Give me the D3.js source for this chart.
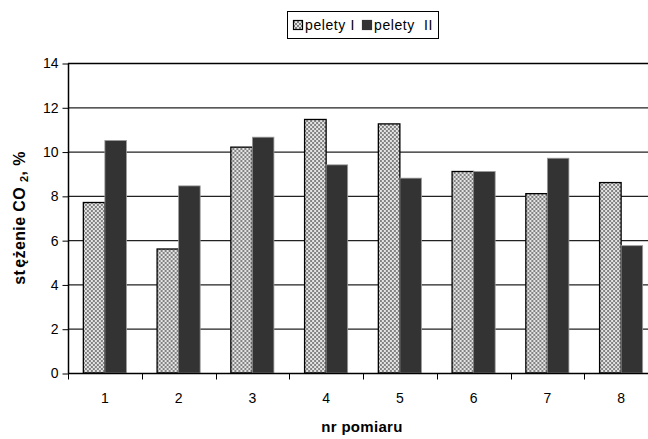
<!DOCTYPE html>
<html>
<head>
<meta charset="utf-8">
<script src="https://cdn.jsdelivr.net/npm/d3@7"></script>
<style>
  html, body { margin: 0; padding: 0; background: #fff; }
  svg { display: block; font-family: "Liberation Sans", Arial, sans-serif; }
</style>
</head>
<body>
<svg id="chart" width="648" height="439"></svg>
<script>
// Measurement numbers and CO2 concentration (%) for two pellet types
const categories = ["1", "2", "3", "4", "5", "6", "7", "8"];
const seriesNames = ["pelety I", "pelety  II"];
const peletyI  = [7.7, 5.6, 10.2, 11.45, 11.25, 9.1, 8.1, 8.6];
const peletyII = [10.5, 8.45, 10.65, 9.4, 8.8, 9.1, 9.7, 5.75];
const yTicks = [0, 2, 4, 6, 8, 10, 12, 14];

const svg = d3.select("#chart");
const margin = { left: 68, top: 63, bottom: 66 };
const plotRight = 658;           // plot runs past the right edge of the canvas
const plotBottom = 439 - margin.bottom;

// Checkerboard fill for the first series
const defs = svg.append("defs");
const pat = defs.append("pattern")
  .attr("id", "checker")
  .attr("patternUnits", "userSpaceOnUse")
  .attr("width", 4).attr("height", 4);
pat.append("rect").attr("width", 4).attr("height", 4).attr("fill", "#e4e4e4");
pat.append("rect").attr("width", 2).attr("height", 2).attr("fill", "#828282");
pat.append("rect").attr("x", 2).attr("y", 2).attr("width", 2).attr("height", 2).attr("fill", "#828282");

const x = d3.scaleBand().domain(categories).range([margin.left, plotRight]).paddingInner(0).paddingOuter(0);
const y = d3.scaleLinear().domain([0, 14]).range([plotBottom, margin.top]);
const barW = x.bandwidth() * 0.292;

// Horizontal gridlines
svg.append("g").selectAll("line").data(yTicks.filter(d => d > 0)).join("line")
  .attr("x1", margin.left).attr("x2", plotRight)
  .attr("y1", d => y(d) + 0.5).attr("y2", d => y(d) + 0.5)
  .attr("stroke", d => d === 14 ? "#000" : "#222")
  .attr("stroke-width", d => d === 14 ? 1.5 : 1.2);

// Bars
const groups = svg.append("g").selectAll("g").data(categories).join("g")
  .attr("transform", d => `translate(${x(d) + x.bandwidth() / 2},0)`);

groups.append("rect")
  .attr("x", -barW).attr("width", barW)
  .attr("y", (d, i) => y(peletyI[i]))
  .attr("height", (d, i) => y(0) - y(peletyI[i]))
  .attr("fill", "url(#checker)")
  .attr("stroke", "#000").attr("stroke-width", 1.3);

groups.append("rect")
  .attr("x", 0).attr("width", barW)
  .attr("y", (d, i) => y(peletyII[i]))
  .attr("height", (d, i) => y(0) - y(peletyII[i]))
  .attr("fill", "#333")
  .attr("stroke", "#9a9a9a").attr("stroke-width", 0.8);

// Y axis
const yAxis = d3.axisLeft(y).tickValues(yTicks).tickSize(6).tickPadding(4).tickFormat(d3.format("d"));
const yg = svg.append("g").attr("transform", `translate(${margin.left + 0.5},0.5)`).call(yAxis);
yg.select(".domain").attr("stroke", "#000").attr("stroke-width", 1.5).attr("d", `M0,${y(14)}V${y(0)}`);
yg.selectAll(".tick line").attr("stroke", "#000");
yg.selectAll(".tick text").attr("font-size", 14).attr("fill", "#000")
  .attr("font-family", "Liberation Sans, Arial, sans-serif");

// X axis: ticks between categories, labels centred
const xg = svg.append("g").attr("transform", `translate(0,${plotBottom + 0.5})`);
xg.append("line").attr("x1", margin.left).attr("x2", plotRight).attr("stroke", "#000").attr("stroke-width", 1.5);
const boundaries = categories.map(c => x(c)).concat([x(categories[categories.length - 1]) + x.bandwidth()]);
xg.selectAll("line.tk").data(boundaries).join("line").attr("class", "tk")
  .attr("x1", d => Math.round(d) + 0.5).attr("x2", d => Math.round(d) + 0.5)
  .attr("y1", 0).attr("y2", 6).attr("stroke", "#000");
xg.selectAll("text").data(categories).join("text")
  .attr("x", d => x(d) + x.bandwidth() / 2).attr("y", 29)
  .attr("text-anchor", "middle").attr("font-size", 14).attr("fill", "#000")
  .text(d => d);

// Axis titles
svg.append("text")
  .attr("x", (margin.left + plotRight) / 2 - 1).attr("y", 432)
  .attr("text-anchor", "middle").attr("font-size", 15).attr("font-weight", "bold")
  .attr("letter-spacing", 0.3)
  .text("nr pomiaru");

const yt = svg.append("text")
  .attr("transform", `translate(25,${(margin.top + plotBottom) / 2}) rotate(-90)`)
  .attr("text-anchor", "middle").attr("font-size", 16).attr("font-weight", "bold")
  .attr("letter-spacing", 0.4)
  .attr("xml:space", "preserve").style("white-space", "pre");
yt.append("tspan").text("st");
yt.append("tspan").attr("dx", 2).text("ężenie CO ");
yt.append("tspan").attr("font-size", 11).attr("dy", 3).text("2");
yt.append("tspan").attr("dy", -3).text(", %");

// Legend
const lg = svg.append("g").attr("transform", "translate(287,11)");
lg.append("rect").attr("x", 0.5).attr("y", 0.5).attr("width", 151).attr("height", 27)
  .attr("fill", "#fff").attr("stroke", "#000").attr("stroke-width", 1);
const items = [
  { name: seriesNames[0], x: 6, fill: "url(#checker)", stroke: "#000" },
  { name: seriesNames[1], x: 75, fill: "#333", stroke: "#333" }
];
items.forEach(it => {
  lg.append("rect").attr("x", it.x + 0.5).attr("y", 9.5).attr("width", 9).attr("height", 9)
    .attr("fill", it.fill).attr("stroke", it.stroke).attr("stroke-width", 1.2);
  lg.append("text").attr("x", it.x + 12).attr("y", 19).attr("font-size", 14)
    .attr("letter-spacing", 0.6)
    .attr("xml:space", "preserve").style("white-space", "pre")
    .text(it.name);
});
</script>
</body>
</html>
